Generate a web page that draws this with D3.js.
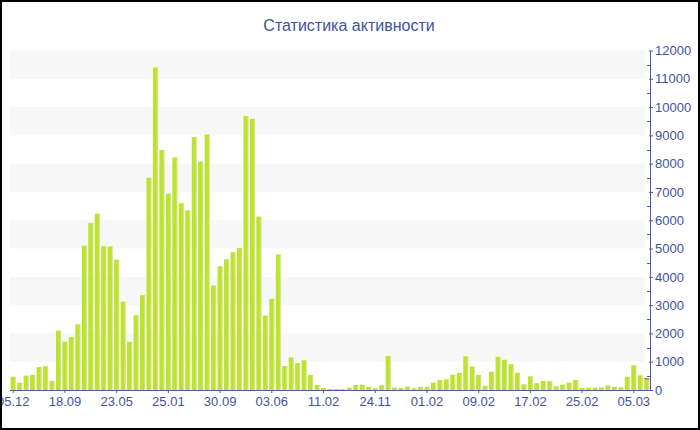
<!DOCTYPE html>
<html>
<head>
<meta charset="utf-8">
<script src="https://cdn.jsdelivr.net/npm/d3@7/dist/d3.min.js"></script>
<style>
  html, body { margin: 0; padding: 0; background: #fff; }
  svg { display: block; }
</style>
</head>
<body>
<svg id="chart" width="700" height="430"></svg>
<script>
const title = "Статистика активности";

// Values per period (99 bars)
const values = [
  470, 250, 510, 530, 810, 840, 320, 2100, 1710, 1870,
  2320, 5100, 5900, 6230, 5080, 5070, 4610, 3120, 1700, 2640,
  3350, 7500, 11400, 8480, 6940, 8220, 6600, 6350, 8940, 8070,
  9030, 3690, 4370, 4620, 4870, 5020, 9680, 9580, 6130, 2630,
  3220, 4790, 850, 1150, 950, 1050, 530, 180, 70, 35,
  35, 35, 80, 180, 190, 110, 60, 170, 1200, 90,
  70, 120, 60, 110, 110, 260, 350, 380, 540, 600,
  1190, 830, 530, 150, 650, 1170, 1070, 910, 610, 200,
  480, 240, 320, 310, 130, 190, 260, 350, 70, 80,
  80, 90, 160, 110, 90, 470, 870, 520, 370
];
// Small red cap on the latest (incomplete) period
const extraValues = values.map((v, i) => i === values.length - 1 ? 50 : 0);

// Tick labels shown every 8 bars
const tickLabels = ["05.12", "18.09", "23.05", "25.01", "30.09", "03.06", "11.02",
                    "24.11", "01.02", "09.02", "17.02", "25.02", "05.03"];
const tickEvery = 8;
const yTicks = [0, 1000, 2000, 3000, 4000, 5000, 6000, 7000, 8000, 9000, 10000, 11000, 12000];

(function () {
const W = 700, H = 430;
const pLeft = 10, pRight = 650, pTop = 50.5, pBottom = 390;
const axisColor = "#4b5ca8";
const textColor = "#42529f";
const barColor = "#bde232";
const font = "'Liberation Sans', Arial, sans-serif";

const svg = d3.select("#chart");

const x = d3.scaleBand()
  .domain(d3.range(values.length))
  .range([pLeft, pRight])
  .paddingInner(0.22)
  .paddingOuter(0.11);

const y = d3.scaleLinear().domain([0, 12000]).range([pBottom, pTop]);

// alternating bands
const bands = d3.range(1, 12, 2);
svg.append("g").selectAll("rect").data(bands).join("rect")
  .attr("x", pLeft)
  .attr("width", pRight - 5 - pLeft)
  .attr("y", d => y(d * 1000 + 1000))
  .attr("height", d => y(d * 1000) - y(d * 1000 + 1000))
  .attr("fill", "#f7f7f7");

// bars
const gBars = svg.append("g");
gBars.selectAll("rect.bar").data(values).join("rect")
  .attr("class", "bar")
  .attr("x", (d, i) => x(i))
  .attr("width", x.bandwidth())
  .attr("y", d => y(d))
  .attr("height", d => pBottom - y(d))
  .attr("fill", barColor);
// right-edge highlight
gBars.selectAll("rect.hl").data(values).join("rect")
  .attr("class", "hl")
  .attr("x", (d, i) => x(i) + x.bandwidth() - 1)
  .attr("width", 1)
  .attr("y", d => y(d) + 1)
  .attr("height", d => Math.max(0, pBottom - y(d) - 1))
  .attr("fill", "#ffffff")
  .attr("opacity", 0.3);
// red caps
gBars.selectAll("rect.extra").data(extraValues).join("rect")
  .attr("class", "extra")
  .attr("x", (d, i) => x(i))
  .attr("width", x.bandwidth())
  .attr("y", (d, i) => y(values[i] + d))
  .attr("height", (d, i) => y(values[i]) - y(values[i] + d))
  .attr("fill", "#e2583a");

// X axis
const tickIdx = tickLabels.map((t, k) => k * tickEvery);
const xAxis = d3.axisBottom(x)
  .tickValues(tickIdx)
  .tickFormat((d) => tickLabels[d / tickEvery])
  .tickSize(3)
  .tickSizeOuter(0);
const gx = svg.append("g").attr("transform", `translate(0,${pBottom})`).call(xAxis);
gx.select(".domain").attr("stroke", axisColor).attr("d", `M${pLeft},0.5H${pRight}`);
gx.selectAll(".tick line").attr("stroke", axisColor);
gx.selectAll(".tick text")
  .attr("fill", textColor)
  .attr("font-family", font)
  .attr("font-size", 13)
  .attr("dy", null)
  .attr("y", 15.5);

// Y axis (right)
const yAxis = d3.axisRight(y).tickValues(yTicks).tickFormat(d3.format("d"))
  .tickSize(3).tickSizeOuter(0).tickPadding(2);
const gy = svg.append("g").attr("transform", `translate(${pRight},0)`).call(yAxis);
gy.select(".domain").attr("stroke", axisColor);
gy.selectAll(".tick line").attr("stroke", axisColor).attr("x1", -1);
gy.selectAll(".tick text")
  .attr("fill", textColor)
  .attr("font-family", font)
  .attr("font-size", 13);
// minor ticks
const minor = d3.range(500, 12000, 1000);
gy.selectAll("line.minor").data(minor).join("line")
  .attr("class", "minor")
  .attr("x1", -3).attr("x2", 0)
  .attr("y1", d => Math.round(y(d)) + 0.5)
  .attr("y2", d => Math.round(y(d)) + 0.5)
  .attr("stroke", axisColor);

// title
svg.append("text")
  .attr("x", 349)
  .attr("y", 31)
  .attr("text-anchor", "middle")
  .attr("font-family", font)
  .attr("font-size", 16)
  .attr("fill", textColor)
  .text(title);

// frame
svg.append("rect")
  .attr("x", 1).attr("y", 1)
  .attr("width", W - 2).attr("height", H - 2)
  .attr("fill", "none")
  .attr("stroke", "#000")
  .attr("stroke-width", 2);
})();
</script>
</body>
</html>
